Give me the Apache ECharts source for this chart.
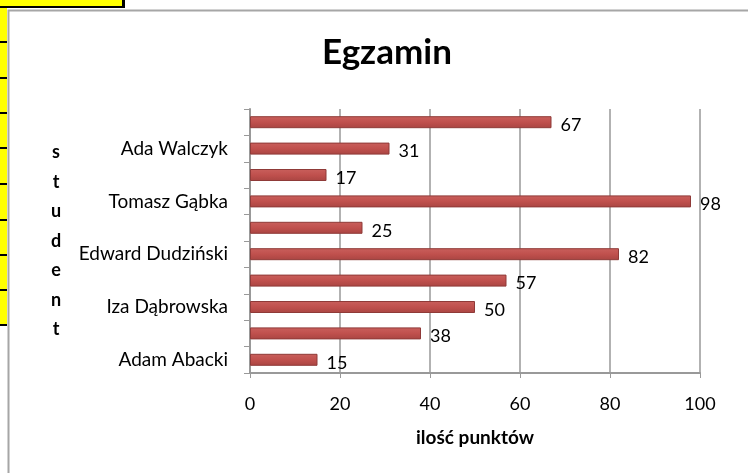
<!DOCTYPE html>
<html>
<head>
<meta charset="utf-8">
<script src="https://cdn.jsdelivr.net/npm/echarts@6/dist/echarts.min.js"></script>
<style>
  html, body { margin: 0; padding: 0; background: #fff; }
  #chart { width: 748px; height: 473px; }
</style>
</head>
<body>
<div id="chart"></div>
<script>
// studenci od dołu osi (co drugi podpis jest ukryty na wykresie)
const students = ['Adam Abacki', '', 'Iza Dąbrowska', '', 'Edward Dudziński', '', 'Tomasz Gąbka', '', 'Ada Walczyk', '']
const points = [15, 38, 50, 57, 82, 25, 98, 17, 31, 67]
const xTicks = [0, 20, 40, 60, 80, 100]

const chart = echarts.init(document.getElementById('chart'))

// linie arkusza po lewej stronie (żółte komórki)
const sheetLines = [42, 78, 113, 148, 184, 220, 255, 290, 325].map(y => ({
  type: 'rect',
  shape: { x: 0, y: y - 1, width: 7, height: 2 },
  style: { fill: '#000' },
  silent: true
}))

const option = {
  backgroundColor: '#fff',
  textStyle: { fontFamily: 'Lato, "Open Sans", sans-serif' },
  graphic: [
    { type: 'rect', shape: { x: 0, y: 0, width: 7, height: 326 }, style: { fill: '#ffff00' }, silent: true },
    { type: 'rect', shape: { x: 0, y: 0, width: 124, height: 7 }, style: { fill: '#ffff00' }, silent: true },
    { type: 'rect', shape: { x: 0, y: 6, width: 125, height: 2 }, style: { fill: '#000' }, silent: true },
    { type: 'rect', shape: { x: 122, y: 0, width: 3, height: 8 }, style: { fill: '#000' }, silent: true },
    ...sheetLines,
    // ramka obszaru wykresu
    {
      type: 'rect',
      shape: { x: 8.5, y: 10.5, width: 760, height: 480 },
      style: { fill: 'none', stroke: '#a6a6a6', lineWidth: 2 },
      silent: true
    }
  ],
  title: {
    text: 'Egzamin',
    left: 317,
    top: 30,
    textStyle: { fontSize: 35, fontWeight: 'bold', color: '#000' }
  },
  grid: { left: 250, right: 48, top: 109, bottom: 100 },
  xAxis: {
    type: 'value',
    min: 0,
    max: 100,
    interval: 20,
    name: 'ilość punktów',
    nameLocation: 'middle',
    nameGap: 55,
    nameTextStyle: { fontSize: 19, fontWeight: 'bold', color: '#000' },
    axisLine: { show: true, lineStyle: { color: '#999', width: 2 } },
    axisTick: { show: true, length: 5, lineStyle: { color: '#999' } },
    axisLabel: {
      margin: 22,
      fontSize: 18,
      color: '#000',
      formatter: v => (xTicks.includes(v) ? String(v) : '')
    },
    splitLine: { show: true, lineStyle: { color: '#999', width: 1.5 } }
  },
  yAxis: {
    type: 'category',
    data: students,
    name: 's\nt\nu\nd\ne\nn\nt',
    nameLocation: 'middle',
    nameRotate: 0,
    nameGap: 194,
    nameTextStyle: {
      fontSize: 18,
      fontWeight: 'bold',
      color: '#000',
      align: 'center',
      verticalAlign: 'middle',
      lineHeight: 29.5,
      padding: [12, 0, 0, 0]
    },
    axisLine: { show: true, lineStyle: { color: '#999', width: 2 } },
    axisTick: { show: true, length: 6, interval: 0, lineStyle: { color: '#999' } },
    axisLabel: { interval: 0, margin: 22, fontSize: 19, color: '#000' }
  },
  series: [
    {
      type: 'bar',
      data: points,
      barWidth: 12,
      itemStyle: {
        color: new echarts.graphic.LinearGradient(0, 0, 0, 1, [
          { offset: 0, color: '#c9605c' },
          { offset: 0.5, color: '#c0504d' },
          { offset: 1, color: '#a94542' }
        ]),
        borderColor: '#8f3a38',
        borderWidth: 1
      },
      label: {
        show: true,
        position: 'right',
        distance: 9,
        fontSize: 18,
        color: '#000',
        offset: [0, 3]
      }
    }
  ]
}

chart.setOption(option)

window.addEventListener('resize', () => {
  chart.resize()
})
</script>
</body>
</html>
